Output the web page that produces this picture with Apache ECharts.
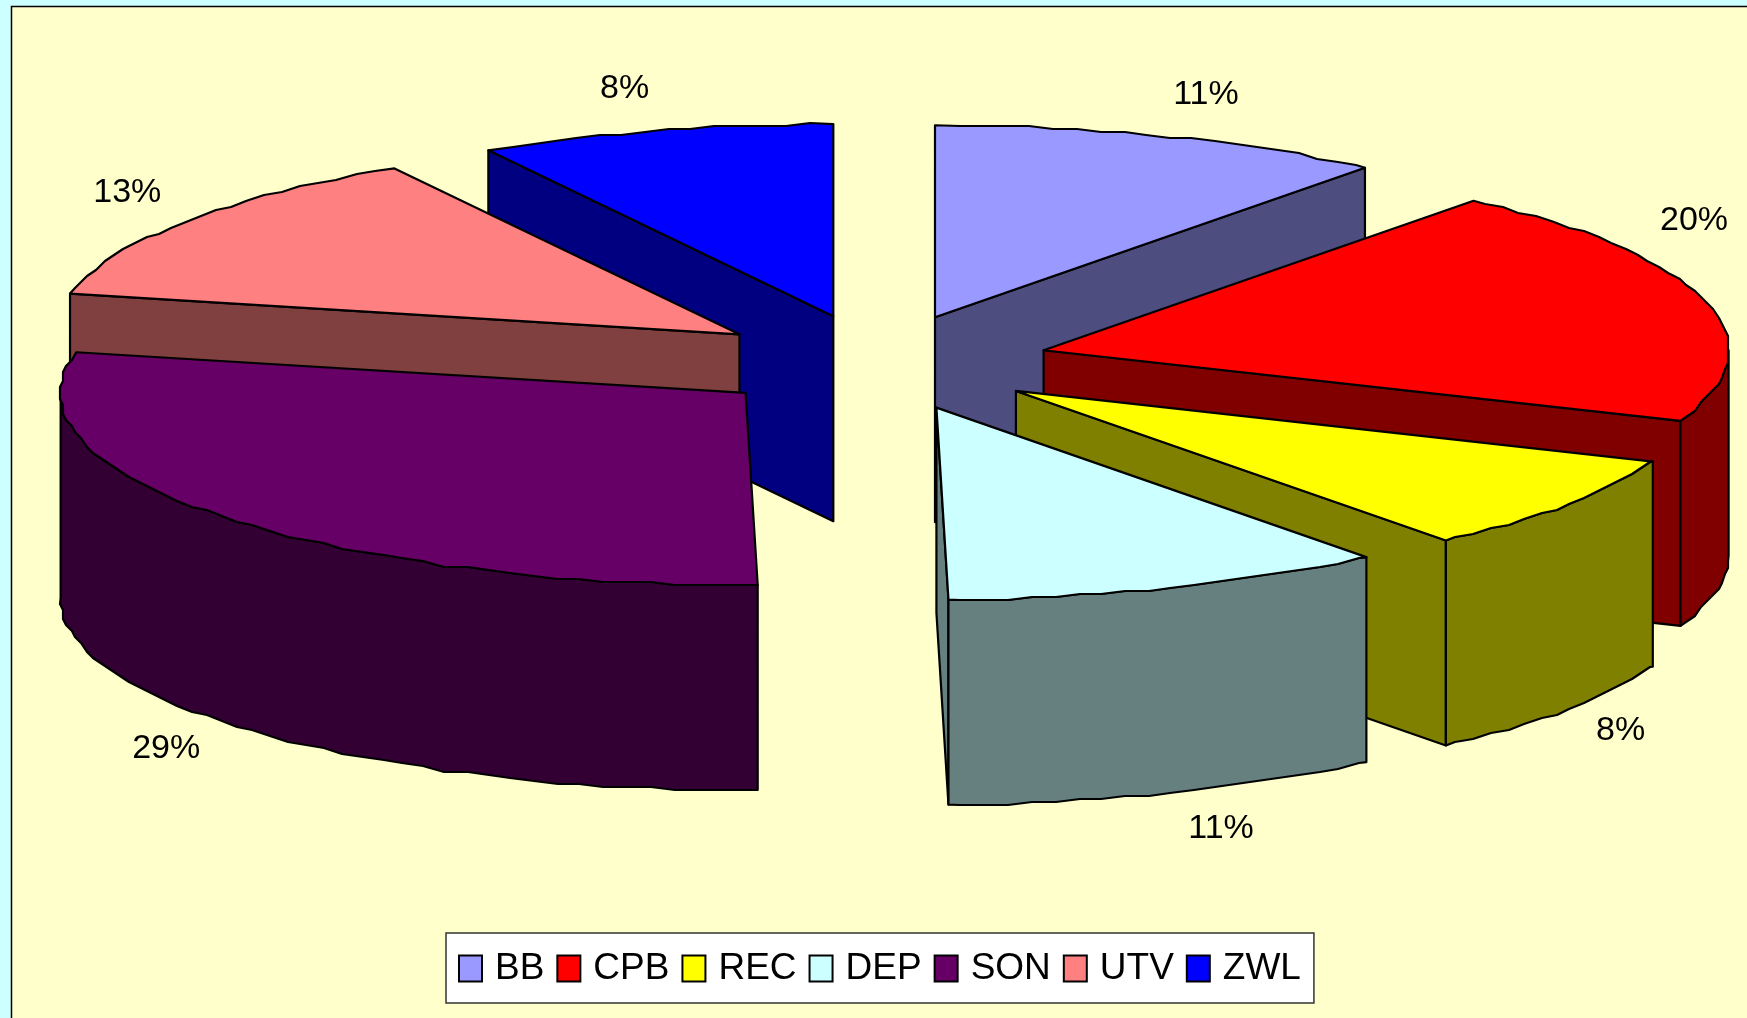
<!DOCTYPE html>
<html><head><meta charset="utf-8">
<style>html,body{margin:0;padding:0;width:1747px;height:1018px;overflow:hidden}#c{width:1747px;height:1018px}</style>
<script src="https://cdn.jsdelivr.net/npm/echarts@6/dist/echarts.min.js"></script>
</head><body><div id="c"></div>
<script>
const categories = ['BB','CPB','REC','DEP','SON','UTV','ZWL'];
const values = [10.8,20.2,8.2,10.52,28.68,13.2,8.4];
const topColors = ['#9999FF','#FF0000','#FFFF00','#CCFFFF','#660066','#FF8080','#0000FF'];
const sideColors = ['#4D4D80','#800000','#808000','#668080','#330033','#804040','#000080'];
const paintOrder = [6,5,4,0,1,2,3];
const labelNudge = [[43,-42],[-12,-81],[53,21],[51,36],[-50,29],[-58,-29],[-30,-42]];

const CX=878, CY=362.5, RX=685, RY=192, THICK=205, EXPLODE=0.25, STEP=2, GRID=3;
const total = values.reduce((a,b)=>a+b,0);
const rad = d=>d*Math.PI/180;
function bounds(i){
  let s=0; for(let k=0;k<i;k++) s+=values[k];
  return [s/total*360,(s+values[i])/total*360];
}
function apexOf(i){
  const [a,b]=bounds(i), m=rad((a+b)/2);
  return [CX+RX*EXPLODE*Math.sin(m), CY-RY*EXPLODE*Math.cos(m)];
}
function rim(ap,deg){return [ap[0]+RX*Math.sin(rad(deg)), ap[1]-RY*Math.cos(rad(deg))];}
function snap(p){return [Math.round(p[0]/GRID)*GRID, Math.round(p[1]/GRID)*GRID];}
function arc(ap,a,b){
  const pts=[rim(ap,a)];
  for(let d=Math.ceil(a/STEP+0.2)*STEP;d<b-0.4;d+=STEP) pts.push(snap(rim(ap,d)));
  pts.push(rim(ap,b));
  return pts;
}
const down=p=>[p[0],p[1]+THICK];
function poly(points,fill){
  return {type:'polygon',shape:{points},style:{fill,stroke:'#000',lineWidth:2.2,lineJoin:'round'}};
}
function drawSlice(i,value){
  const [a,b]=bounds(i), ap=apexOf(i), kids=[], side=sideColors[i];
  const face=deg=>{const r=rim(ap,deg);kids.push(poly([ap,r,down(r),down(ap)],side));};
  if(Math.sin(rad(a))<-1e-6) face(a);
  if(Math.sin(rad(b))>1e-6) face(b);
  const lo=Math.max(a,90), hi=Math.min(b,270);
  if(lo<hi){
    const rp=arc(ap,lo,hi);
    kids.push(poly(rp.concat(rp.slice().reverse().map(down)),side));
  }
  kids.push(poly([ap].concat(arc(ap,a,b)),topColors[i]));
  const m=(a+b)/2, anchor=rim(ap,m);
  if(Math.cos(rad(m))<0) anchor[1]+=THICK;
  kids.push({type:'text',style:{
    text:Math.round(value/total*100)+'%',
    x:anchor[0]+labelNudge[i][0], y:anchor[1]+labelNudge[i][1],
    align:'center',verticalAlign:'middle',
    font:'34px "Liberation Sans"',fill:'#000'}});
  return {type:'group',children:kids};
}
const chart=echarts.init(document.getElementById('c'),null,{renderer:'canvas'});
chart.setOption({
  animation:false,
  backgroundColor:'#CCFFFF',
  graphic:[{type:'rect',z:-10,silent:true,shape:{x:11.5,y:6.5,width:1760,height:1040},
    style:{fill:'#FFFFCC',stroke:'#000',lineWidth:1.5}}],
  legend:{
    data:categories,left:446,top:933,orient:'horizontal',icon:'rect',
    itemWidth:23,itemHeight:26,itemGap:12,
    backgroundColor:'#FFFFFF',borderColor:'#333',borderWidth:1.5,
    padding:[17,13,16,12],
    itemStyle:{borderColor:'#000',borderWidth:2},
    textStyle:{color:'#000',fontFamily:'Liberation Sans',fontSize:37,padding:[0,0,0,8]},
    selectedMode:false
  },
  series:paintOrder.map(i=>({
    type:'custom',name:categories[i],coordinateSystem:'none',silent:true,
    itemStyle:{color:topColors[i]},
    data:[values[i]],
    renderItem:(params,api)=>drawSlice(i,api.value(0))
  }))
});
</script></body></html>
